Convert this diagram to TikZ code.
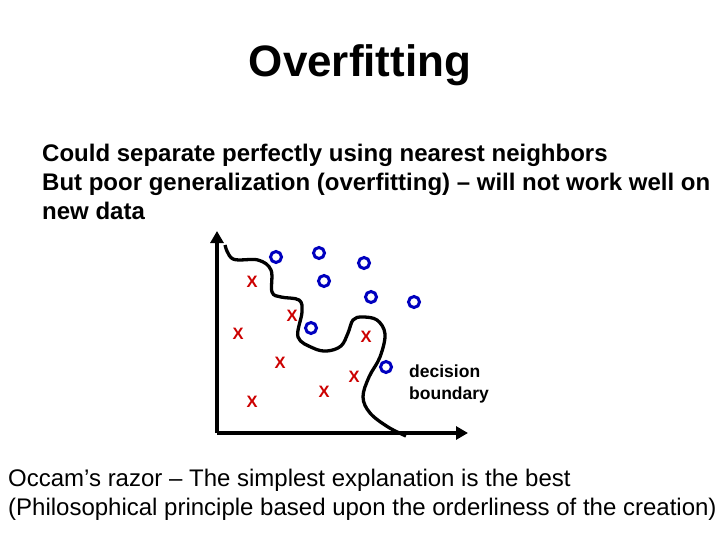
\documentclass[tikz,border=0pt]{standalone}
\usepackage{fontspec}
\setmainfont{Liberation Sans}
\usetikzlibrary{arrows.meta}
\begin{document}
\begin{tikzpicture}[x=1pt,y=-1pt,
  circ/.style={draw=blue!75!black,line width=3pt,circle,minimum size=11pt,inner sep=0pt},
  xmark/.style={text=red!80!black,font=\fontsize{16.5}{16.5}\selectfont\bfseries,inner sep=0pt},
  body/.style={anchor=base west,inner sep=0pt,font=\fontsize{24}{24}\selectfont\bfseries},
  foot/.style={anchor=base west,inner sep=0pt,font=\fontsize{24}{24}\selectfont},
  axis/.style={line width=4pt,-{Triangle[length=12pt,width=13pt]}},
  bound/.style={line width=3.3pt}]
\useasboundingbox (0,0) rectangle (720,540);
\node[font=\fontsize{44}{44}\selectfont\bfseries,inner sep=0pt] (title) at (360,65) {Overfitting};
\node[body] (l1) at (42,162) {Could separate perfectly using nearest neighbors};
\node[body] (l2) at (42,191) {But poor generalization (overfitting) – will not work well on};
\node[body] (l3) at (42,219) {new data};
% axes
\coordinate (o) at (217,433);
\coordinate (ytop) at (217,231);
\coordinate (xend) at (468,433);
\draw[axis] (o) -- (ytop);
\draw[axis] (o) -- (xend);
% circles
\node[circ] (c1) at (276,257) {};
\node[circ] (c2) at (319,253) {};
\node[circ] (c3) at (364,263) {};
\node[circ] (c4) at (324,281) {};
\node[circ] (c5) at (371,297) {};
\node[circ] (c6) at (414,302) {};
\node[circ] (c7) at (311,328) {};
\node[circ] (c8) at (386,367) {};
% crosses
\node[xmark] (x1) at (252,282) {X};
\node[xmark] (x2) at (292,316) {X};
\node[xmark] (x3) at (238,334) {X};
\node[xmark] (x4) at (366,337) {X};
\node[xmark] (x5) at (280,363) {X};
\node[xmark] (x6) at (354,377) {X};
\node[xmark] (x7) at (324,392) {X};
\node[xmark] (x8) at (252,402) {X};
% boundary
\draw[bound] plot[smooth,tension=0.6] coordinates {
 (225,245) (233,259) (258,260) (271,270) (272,292) (281,297) (299,300) (302,312)
 (298,337) (313,348) (327,351) (341,346) (348,333) (353,320) (362,317) (377,320)
 (385,334) (380,357) (369,377) (363,397) (370,413) (388,427) (406,436)};
\node[anchor=base west,inner sep=0pt,align=left,font=\fontsize{17.5}{21.5}\selectfont\bfseries] (db) at (409,399) {decision\\boundary};
\node[foot] (f1) at (8,486) {Occam’s razor – The simplest explanation is the best};
\node[foot] (f2) at (8,515) {(Philosophical principle based upon the orderliness of the creation)};
\end{tikzpicture}
\end{document}
